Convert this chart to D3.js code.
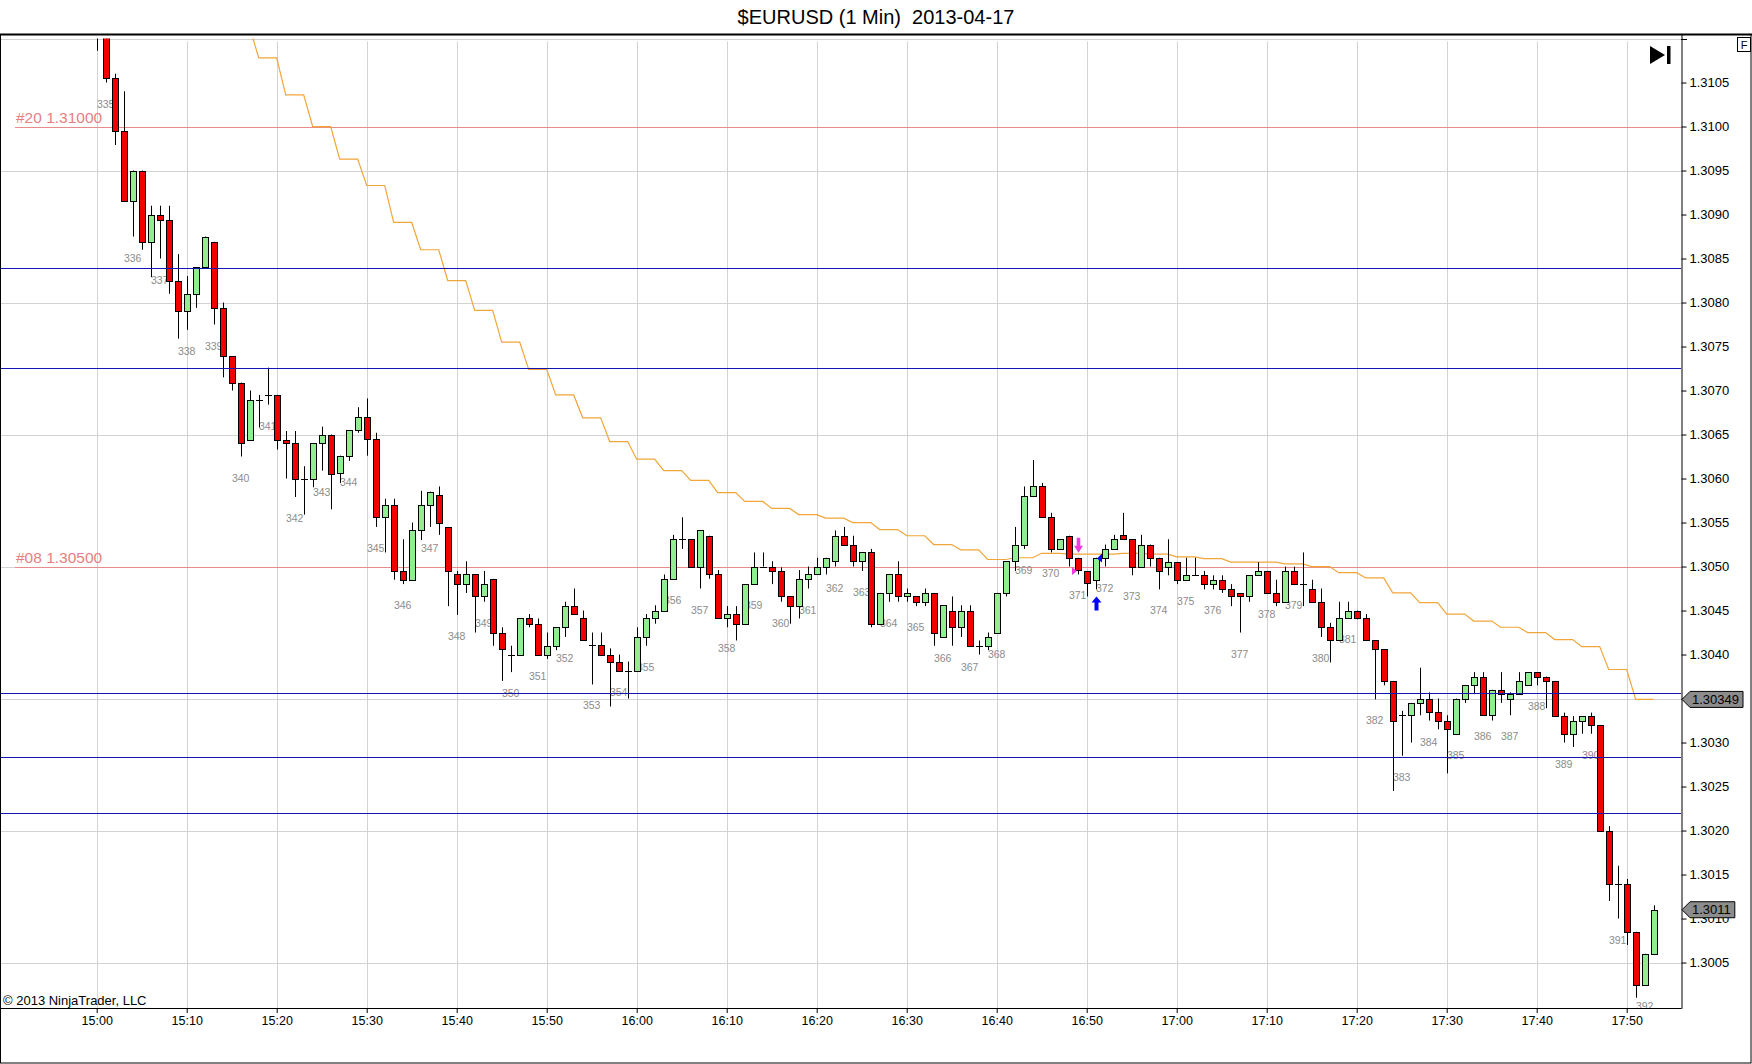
<!DOCTYPE html>
<html>
<head>
<meta charset="utf-8">
<title>$EURUSD (1 Min) 2013-04-17</title>
<script src="https://cdn.jsdelivr.net/npm/d3@7"></script>
<style>
  body { margin: 0; background: #fff; }
  svg { display: block; }
  text { font-family: "Liberation Sans", Arial, sans-serif; }
</style>
</head>
<body>
<svg id="chart" width="1752" height="1064"></svg>
<script>
// values, one bar per minute from 15:00
const sessionStart = "2013-04-17 15:00";

const openP = [
  1.31140,1.31118,1.31055,1.30995,1.30915,1.30950,1.30869,1.30900,1.30894,1.30825,
  1.30790,1.30810,1.30840,1.30869,1.30794,1.30739,1.30709,1.30644,1.30689,1.30695,
  1.30695,1.30644,1.30640,1.30600,1.30600,1.30640,1.30650,1.30606,1.30626,1.30655,
  1.30670,1.30645,1.30556,1.30570,1.30495,1.30485,1.30541,1.30570,1.30581,1.30545,
  1.30491,1.30480,1.30491,1.30466,1.30486,1.30425,1.30400,1.30400,1.30441,1.30435,
  1.30400,1.30410,1.30431,1.30455,1.30441,1.30411,1.30411,1.30400,1.30391,1.30381,
  1.30381,1.30420,1.30441,1.30450,1.30486,1.30531,1.30531,1.30500,1.30535,1.30491,
  1.30441,1.30446,1.30435,1.30480,1.30500,1.30500,1.30495,1.30466,1.30455,1.30486,
  1.30491,1.30500,1.30506,1.30535,1.30525,1.30506,1.30516,1.30435,1.30470,1.30491,
  1.30466,1.30466,1.30460,1.30470,1.30420,1.30450,1.30431,1.30450,1.30410,1.30410,
  1.30425,1.30470,1.30506,1.30525,1.30580,1.30591,1.30556,1.30520,1.30535,1.30510,
  1.30495,1.30485,1.30510,1.30520,1.30536,1.30531,1.30500,1.30525,1.30510,1.30500,
  1.30505,1.30485,1.30490,1.30490,1.30480,1.30485,1.30474,1.30470,1.30466,1.30490,
  1.30495,1.30470,1.30460,1.30495,1.30480,1.30475,1.30460,1.30431,1.30416,1.30441,
  1.30450,1.30441,1.30416,1.30406,1.30370,1.30331,1.30331,1.30345,1.30350,1.30335,
  1.30325,1.30310,1.30350,1.30365,1.30375,1.30331,1.30360,1.30350,1.30355,1.30365,
  1.30380,1.30375,1.30370,1.30330,1.30310,1.30325,1.30330,1.30320,1.30199,1.30139,
  1.30139,1.30085,1.30024,1.30060];

const highP = [
  1.31160,1.31125,1.31060,1.31040,1.30950,1.30950,1.30910,1.30910,1.30910,1.30855,
  1.30830,1.30840,1.30875,1.30869,1.30800,1.30739,1.30709,1.30700,1.30695,1.30726,
  1.30695,1.30654,1.30654,1.30614,1.30640,1.30659,1.30650,1.30626,1.30655,1.30681,
  1.30691,1.30652,1.30577,1.30577,1.30531,1.30550,1.30586,1.30585,1.30591,1.30545,
  1.30495,1.30506,1.30491,1.30495,1.30486,1.30431,1.30410,1.30441,1.30446,1.30441,
  1.30425,1.30431,1.30460,1.30475,1.30450,1.30425,1.30425,1.30407,1.30400,1.30392,
  1.30431,1.30446,1.30456,1.30491,1.30536,1.30556,1.30531,1.30541,1.30535,1.30496,
  1.30455,1.30455,1.30480,1.30516,1.30516,1.30506,1.30499,1.30466,1.30496,1.30500,
  1.30510,1.30510,1.30541,1.30545,1.30535,1.30516,1.30520,1.30470,1.30491,1.30506,
  1.30475,1.30466,1.30475,1.30470,1.30456,1.30466,1.30456,1.30456,1.30416,1.30425,
  1.30470,1.30506,1.30545,1.30591,1.30621,1.30595,1.30561,1.30531,1.30535,1.30510,
  1.30495,1.30510,1.30525,1.30536,1.30561,1.30531,1.30536,1.30525,1.30510,1.30531,
  1.30505,1.30510,1.30510,1.30495,1.30490,1.30490,1.30480,1.30470,1.30490,1.30505,
  1.30495,1.30485,1.30500,1.30500,1.30516,1.30485,1.30475,1.30436,1.30460,1.30460,
  1.30450,1.30446,1.30416,1.30406,1.30370,1.30336,1.30345,1.30385,1.30357,1.30350,
  1.30331,1.30350,1.30365,1.30380,1.30380,1.30360,1.30380,1.30357,1.30380,1.30380,
  1.30380,1.30375,1.30370,1.30334,1.30330,1.30330,1.30334,1.30320,1.30205,1.30160,
  1.30145,1.30085,1.30060,1.30115];

const lowP = [
  1.31086,1.31050,1.30979,1.30915,1.30875,1.30860,1.30829,1.30850,1.30810,1.30759,
  1.30769,1.30794,1.30840,1.30775,1.30715,1.30700,1.30625,1.30644,1.30658,1.30684,
  1.30633,1.30600,1.30579,1.30559,1.30590,1.30609,1.30565,1.30595,1.30620,1.30652,
  1.30626,1.30545,1.30516,1.30485,1.30480,1.30485,1.30530,1.30545,1.30536,1.30455,
  1.30445,1.30470,1.30425,1.30460,1.30410,1.30370,1.30380,1.30400,1.30431,1.30400,
  1.30395,1.30405,1.30420,1.30445,1.30416,1.30366,1.30400,1.30341,1.30381,1.30350,
  1.30381,1.30410,1.30435,1.30450,1.30486,1.30520,1.30500,1.30475,1.30486,1.30441,
  1.30431,1.30416,1.30435,1.30480,1.30500,1.30480,1.30460,1.30435,1.30441,1.30475,
  1.30491,1.30491,1.30500,1.30525,1.30500,1.30495,1.30431,1.30435,1.30460,1.30460,
  1.30460,1.30455,1.30455,1.30410,1.30420,1.30410,1.30420,1.30410,1.30400,1.30405,
  1.30425,1.30466,1.30495,1.30520,1.30580,1.30556,1.30516,1.30520,1.30500,1.30491,
  1.30466,1.30474,1.30500,1.30520,1.30531,1.30490,1.30500,1.30500,1.30474,1.30490,
  1.30480,1.30485,1.30490,1.30474,1.30474,1.30470,1.30455,1.30425,1.30460,1.30490,
  1.30470,1.30455,1.30460,1.30480,1.30455,1.30460,1.30420,1.30391,1.30416,1.30441,
  1.30440,1.30416,1.30349,1.30365,1.30245,1.30285,1.30300,1.30331,1.30325,1.30315,
  1.30265,1.30310,1.30345,1.30355,1.30331,1.30325,1.30345,1.30331,1.30355,1.30365,
  1.30365,1.30339,1.30330,1.30300,1.30295,1.30310,1.30310,1.30199,1.30120,1.30100,
  1.30070,1.30010,1.30024,1.30060];

const closeP = [
  1.31118,1.31055,1.30995,1.30915,1.30950,1.30869,1.30900,1.30894,1.30825,1.30790,
  1.30810,1.30840,1.30875,1.30794,1.30739,1.30709,1.30640,1.30689,1.30689,1.30695,
  1.30644,1.30640,1.30600,1.30600,1.30640,1.30650,1.30605,1.30626,1.30655,1.30670,
  1.30645,1.30556,1.30570,1.30495,1.30485,1.30541,1.30570,1.30585,1.30550,1.30495,
  1.30480,1.30491,1.30466,1.30480,1.30425,1.30406,1.30400,1.30441,1.30435,1.30400,
  1.30410,1.30431,1.30455,1.30446,1.30416,1.30411,1.30400,1.30391,1.30381,1.30381,
  1.30420,1.30441,1.30450,1.30486,1.30531,1.30531,1.30500,1.30541,1.30491,1.30441,
  1.30446,1.30435,1.30480,1.30500,1.30500,1.30495,1.30466,1.30455,1.30486,1.30491,
  1.30500,1.30510,1.30535,1.30525,1.30506,1.30516,1.30435,1.30470,1.30491,1.30466,
  1.30470,1.30460,1.30470,1.30425,1.30456,1.30431,1.30450,1.30410,1.30410,1.30420,
  1.30470,1.30506,1.30525,1.30580,1.30591,1.30556,1.30520,1.30531,1.30510,1.30496,
  1.30481,1.30510,1.30520,1.30531,1.30531,1.30500,1.30525,1.30510,1.30495,1.30505,
  1.30485,1.30490,1.30490,1.30480,1.30485,1.30474,1.30466,1.30466,1.30490,1.30495,
  1.30470,1.30460,1.30495,1.30480,1.30480,1.30460,1.30431,1.30416,1.30441,1.30450,
  1.30441,1.30416,1.30406,1.30370,1.30325,1.30331,1.30345,1.30350,1.30335,1.30325,
  1.30315,1.30350,1.30365,1.30375,1.30331,1.30360,1.30355,1.30355,1.30370,1.30380,
  1.30375,1.30370,1.30330,1.30310,1.30325,1.30330,1.30320,1.30199,1.30139,1.30139,
  1.30085,1.30024,1.30060,1.30110];

// bar counter printed under every third bar, first one under the 15:01 bar
const firstBarNumber = 335;

// orange stepped indicator, one value per 3 bars starting with bar 15
const smaStart = 15;
const smaVals = [
  1.31113,1.31078,1.31036,1.31000,1.30963,1.30933,1.30891,1.30860,1.30825,1.30791,
  1.30755,1.30724,1.30695,1.30669,1.30642,1.30622,1.30609,1.30598,1.30584,1.30574,
  1.30566,1.30559,1.30555,1.30550,1.30542,1.30535,1.30525,1.30519,1.30508,1.30510,
  1.30515,1.30514,1.30514,1.30515,1.30514,1.30511,1.30509,1.30505,1.30505,1.30503,
  1.30500,1.30493,1.30487,1.30470,1.30459,1.30446,1.30438,1.30431,1.30425,1.30417,
  1.30409,1.30383,1.30349];

const blueLevels = [1.30839, 1.30726, 1.30356, 1.30283, 1.30220];
const redLevels = [1.31000, 1.30500];
const redLabels = ["#20 1.31000", "#08 1.30500"];

const arrowSignals = [{bar: 109, dir: "down"}, {bar: 111, dir: "up"}];
const fillMarks = [{bar: 109, price: 1.30495, side: "down"}, {bar: 111, price: 1.30509, side: "up"}];

const priceMarks = [1.30349, 1.3011];
const priceMarkLabels = ["1.30349", "1.3011"];

const priceTicks = [1.3005,1.3010,1.3015,1.3020,1.3025,1.3030,1.3035,1.3040,1.3045,1.3050,
                    1.3055,1.3060,1.3065,1.3070,1.3075,1.3080,1.3085,1.3090,1.3095,1.3100,1.3105];
const gridPrices = [1.3005,1.3020,1.3035,1.3050,1.3065,1.3080,1.3095,1.3110];
const timeTicks = ["15:00","15:10","15:20","15:30","15:40","15:50","16:00","16:10","16:20",
                   "16:30","16:40","16:50","17:00","17:10","17:20","17:30","17:40","17:50"];

// ---- drawing ----
const svg = d3.select("#chart");
const parseT = d3.timeParse("%Y-%m-%d %H:%M");
const t0 = parseT(sessionStart);
const barTime = i => new Date(+t0 + i * 60000);
const tickDates = timeTicks.map(s => parseT("2013-04-17 " + s));

const bars = openP.map((o, i) => ({i, t: barTime(i), o, h: highP[i], l: lowP[i], c: closeP[i]}));

const P = {left: 0, right: 1681, top: 34.3, bottom: 1008.3};
const x = d3.scaleTime().domain([barTime(-10.744), barTime(176.033)]).range([P.left, P.right]);
const y = d3.scaleLinear().domain([1.29998, 1.311048]).range([P.bottom, P.top]);
const px = v => Math.round(v) + 0.5;
const clipTop = y(1.3110);

svg.append("defs").append("clipPath").attr("id", "plotClip")
  .append("rect").attr("x", 0).attr("y", clipTop).attr("width", P.right).attr("height", P.bottom - clipTop);

// title
svg.append("text")
  .attr("x", 876).attr("y", 24)
  .attr("text-anchor", "middle").attr("font-size", 20)
  .style("white-space", "pre")
  .text("$EURUSD (1 Min)  2013-04-17");

// grid
const grid = svg.append("g").attr("stroke", "#d3d3d3").attr("stroke-width", 1);
grid.selectAll("line.h").data(gridPrices).join("line").attr("class", "h")
  .attr("x1", 0).attr("x2", P.right)
  .attr("y1", d => px(y(d))).attr("y2", d => px(y(d)));
grid.selectAll("line.v").data(tickDates).join("line").attr("class", "v")
  .attr("x1", d => px(x(d))).attr("x2", d => px(x(d)))
  .attr("y1", clipTop + 3).attr("y2", P.bottom);

const plot = svg.append("g").attr("clip-path", "url(#plotClip)");

// red alert lines with labels
redLevels.forEach((lv, k) => {
  plot.append("line")
    .attr("x1", 15).attr("x2", P.right)
    .attr("y1", px(y(lv))).attr("y2", px(y(lv)))
    .attr("stroke", "#e68c8c").attr("stroke-width", 1);
  plot.append("text")
    .attr("x", 16).attr("y", px(y(lv)) - 5)
    .attr("font-size", 15.5).attr("fill", "#e68080")
    .text(redLabels[k]);
});

// orange stepped line
const smaPts = [];
smaVals.forEach((v, g) => {
  for (let k = 0; k < 3; k++) smaPts.push({t: barTime(smaStart + 3 * g + k), v});
});
plot.append("path")
  .datum(smaPts)
  .attr("d", d3.line().x(d => x(d.t)).y(d => y(d.v)))
  .attr("fill", "none").attr("stroke", "#f2a53a").attr("stroke-width", 1.2);

// bar numbers (under candles)
plot.selectAll("text.num")
  .data(bars.filter(d => d.i >= 1 && (d.i - 1) % 3 === 0))
  .join("text").attr("class", "num")
  .attr("x", d => x(d.t)).attr("y", d => y(d.l) + 25)
  .attr("text-anchor", "middle").attr("font-size", 10.5).attr("fill", "#8c8c8c")
  .text(d => firstBarNumber + (d.i - 1) / 3);

// candles
const cx = d => Math.round(x(d.t));
plot.selectAll("line.wick").data(bars).join("line").attr("class", "wick")
  .attr("x1", d => cx(d) + 0.5).attr("x2", d => cx(d) + 0.5)
  .attr("y1", d => y(d.h)).attr("y2", d => y(d.l))
  .attr("stroke", "#000").attr("stroke-width", 1);

const isDoji = d => Math.abs(y(d.o) - y(d.c)) < 1;
plot.selectAll("rect.body").data(bars.filter(d => !isDoji(d))).join("rect").attr("class", "body")
  .attr("x", d => cx(d) - 2.5)
  .attr("y", d => px(y(Math.max(d.o, d.c))))
  .attr("width", 6)
  .attr("height", d => px(y(Math.min(d.o, d.c))) - px(y(Math.max(d.o, d.c))))
  .attr("fill", d => d.c > d.o ? "#90ee90" : "#f20000")
  .attr("stroke", "#000").attr("stroke-width", 1);

plot.selectAll("line.doji").data(bars.filter(isDoji)).join("line").attr("class", "doji")
  .attr("x1", d => cx(d) - 3).attr("x2", d => cx(d) + 4)
  .attr("y1", d => px(y(d.o))).attr("y2", d => px(y(d.o)))
  .attr("stroke", "#000").attr("stroke-width", 1);

// blue horizontal lines
plot.selectAll("line.blue").data(blueLevels).join("line").attr("class", "blue")
  .attr("x1", 0).attr("x2", P.right)
  .attr("y1", d => px(y(d))).attr("y2", d => px(y(d)))
  .attr("stroke", "#1414b4").attr("stroke-width", 1);

// entry arrows
arrowSignals.forEach(s => {
  const b = bars[s.bar], c = cx(b) + 0.5;
  let path;
  if (s.dir === "down") {
    const bot = y(b.h) - 5, top = bot - 15;
    path = `M${c - 1.8},${top}L${c + 1.8},${top}L${c + 1.8},${bot - 7}L${c + 4.5},${bot - 7}L${c},${bot}L${c - 4.5},${bot - 7}L${c - 1.8},${bot - 7}Z`;
    plot.append("path").attr("d", path).attr("fill", "#f03ce0");
  } else {
    const top = y(b.l) + 7, bot = top + 14;
    path = `M${c},${top}L${c + 5},${top + 6}L${c + 2},${top + 6}L${c + 2},${bot}L${c - 2},${bot}L${c - 2},${top + 6}L${c - 5},${top + 6}Z`;
    plot.append("path").attr("d", path).attr("fill", "#0000ff");
  }
});

// fill triangles
fillMarks.forEach(f => {
  const c = cx(bars[f.bar]), yc = y(f.price);
  const path = f.side === "down"
    ? `M${c - 6},${yc - 4}L${c - 1},${yc}L${c - 6},${yc + 4}Z`
    : `M${c + 1},${yc}L${c + 6},${yc - 5}L${c + 6},${yc + 4}Z`;
  plot.append("path").attr("d", path).attr("fill", f.side === "down" ? "#f03ce0" : "#0000ff");
});

// axes
const yAxis = svg.append("g")
  .attr("transform", `translate(${P.right + 0.5},0)`)
  .call(d3.axisRight(y).tickValues(priceTicks).tickFormat(d3.format(".4f"))
    .tickSize(5).tickSizeOuter(0).tickPadding(3));
yAxis.attr("font-size", 13).attr("font-family", '"Liberation Sans", Arial, sans-serif');
yAxis.selectAll("text").attr("fill", "#000");
svg.append("line").attr("x1", P.right).attr("x2", P.right + 6)
  .attr("y1", px(clipTop)).attr("y2", px(clipTop)).attr("stroke", "#000");

const xAxis = svg.append("g")
  .attr("transform", `translate(0,${px(P.bottom) - 0.5})`)
  .call(d3.axisBottom(x).tickValues(tickDates).tickFormat(d3.timeFormat("%H:%M"))
    .tickSize(5).tickSizeOuter(0).tickPadding(3));
xAxis.attr("font-size", 12.5).attr("font-family", '"Liberation Sans", Arial, sans-serif');
xAxis.selectAll("text").attr("fill", "#000");

// last-value markers on the price axis
priceMarks.forEach((p, k) => {
  const yc = y(p);
  const g = svg.append("g");
  const txt = g.append("text")
    .attr("x", P.right + 11).attr("y", yc + 4.5)
    .attr("font-size", 13).attr("fill", "#000")
    .text(priceMarkLabels[k]);
  const w = txt.node().getComputedTextLength();
  const x0 = P.right + 1, x1 = x0 + 8, x2 = P.right + 11 + w + 4;
  g.insert("path", "text")
    .attr("d", `M${x0},${yc}L${x1},${yc - 8}L${x2},${yc - 8}L${x2},${yc + 8}L${x1},${yc + 8}Z`)
    .attr("fill", "#8c8c8c").attr("stroke", "#000").attr("stroke-width", 1);
});

// frame
svg.append("rect").attr("x", 0.5).attr("y", 34.5).attr("width", 1750.5).attr("height", 1028.5)
  .attr("fill", "none").attr("stroke", "#000");
svg.append("line").attr("x1", 0).attr("x2", 1752).attr("y1", 34.5).attr("y2", 34.5)
  .attr("stroke", "#000").attr("stroke-width", 2);

// top-right controls
svg.append("path").attr("d", "M1650,46L1665,55L1650,64Z").attr("fill", "#000");
svg.append("rect").attr("x", 1667).attr("y", 46).attr("width", 3.5).attr("height", 18).attr("fill", "#000");
svg.append("rect").attr("x", 1737.5).attr("y", 37.5).attr("width", 13).attr("height", 14)
  .attr("fill", "#fff").attr("stroke", "#000");
svg.append("text").attr("x", 1744).attr("y", 49).attr("text-anchor", "middle")
  .attr("font-size", 11).text("F");

// copyright
svg.append("text").attr("x", 3).attr("y", 1005).attr("font-size", 13).text("© 2013 NinjaTrader, LLC");
</script>
</body>
</html>
